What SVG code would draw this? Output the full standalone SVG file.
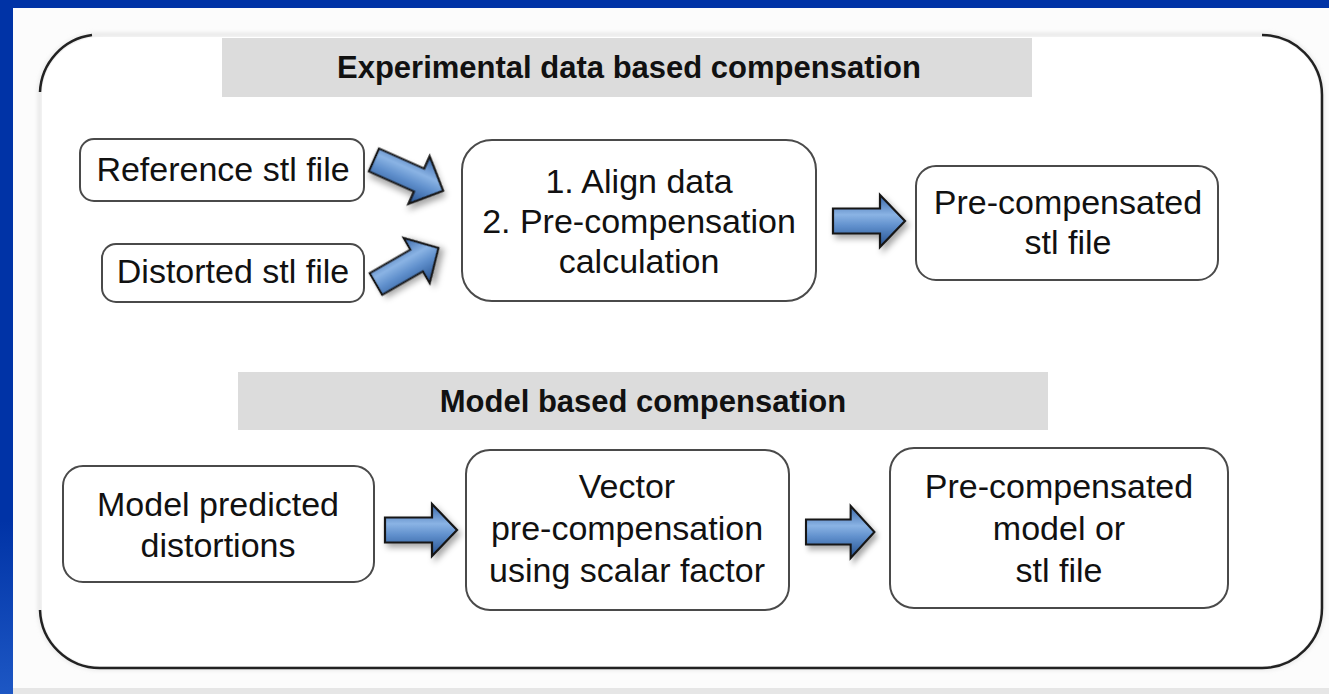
<svg xmlns="http://www.w3.org/2000/svg" xmlns:xlink="http://www.w3.org/1999/xlink" width="1329" height="694" viewBox="0 0 1329 694">
<defs>
<style>
.box{fill:#fff;stroke:#4a4a4a;stroke-width:2}
.hdr{fill:#dcdcdc}
.t{font-family:"Liberation Sans",Arial,sans-serif;font-size:34px;fill:#111;text-anchor:middle}
.h{font-family:"Liberation Sans",Arial,sans-serif;font-size:31px;font-weight:bold;fill:#111;text-anchor:middle}
.arr{fill:url(#ag);stroke:#151515;stroke-width:2.2;stroke-linejoin:miter;filter:url(#sh)}
</style>
<linearGradient id="ag" x1="0" y1="0" x2="0" y2="1">
<stop offset="0" stop-color="#3766a8"/>
<stop offset="0.38" stop-color="#8ab3e4"/>
<stop offset="0.6" stop-color="#5f8fcc"/>
<stop offset="1" stop-color="#25508e"/>
</linearGradient>
<linearGradient id="lb" x1="0" y1="0" x2="0" y2="1">
<stop offset="0" stop-color="#0033a6"/>
<stop offset="0.75" stop-color="#0033a6"/>
<stop offset="1" stop-color="#1d57c4"/>
</linearGradient>
<filter id="sh" x="-30%" y="-50%" width="160%" height="200%">
<feDropShadow dx="3" dy="4" stdDeviation="3" flood-color="#000" flood-opacity="0.35"/>
</filter>
<filter id="ps" x="-5%" y="-5%" width="110%" height="110%">
<feGaussianBlur stdDeviation="2"/>
</filter>
<path id="arrow" d="M0,-12.5 L47,-12.5 L47,-26 L72,0 L47,26 L47,12.5 L0,12.5 Z"/>
</defs>
<rect x="0" y="0" width="1329" height="694" fill="#fcfcfc"/>
<rect x="0" y="688" width="1329" height="6" fill="#e6e6e6"/>
<rect x="0" y="0" width="1329" height="8" fill="#0033a6"/>
<rect x="0" y="0" width="13" height="694" fill="url(#lb)"/>
<g id="panel">
<rect x="40" y="35" width="1282" height="633" rx="60" ry="60" fill="#fff" stroke="#e3e3e3" stroke-width="4" filter="url(#ps)"/>
<rect x="42" y="37" width="1278" height="629" rx="58" ry="58" fill="#fff"/>
<path d="M40,92 A60,60 0 0 1 92,35" fill="none" stroke="#222" stroke-width="2.5"/>
<path d="M1262,35 A60,60 0 0 1 1322,95 L1322,608 A60,60 0 0 1 1262,668 L100,668 A60,60 0 0 1 40,610" fill="none" stroke="#222" stroke-width="2.5"/>
</g>
<g id="header-experimental">
<rect class="hdr" x="222" y="38" width="810" height="59"/>
<text class="h" x="629" y="78">Experimental data based compensation</text>
</g>
<g id="header-model">
<rect class="hdr" x="238" y="372" width="810" height="58"/>
<text class="h" x="643" y="412">Model based compensation</text>
</g>
<g id="reference">
<rect class="box" x="80" y="139" width="284" height="62" rx="14"/>
<text class="t" x="223" y="181">Reference stl file</text>
</g>
<g id="distorted">
<rect class="box" x="102" y="244" width="262" height="58" rx="14"/>
<text class="t" x="233" y="283">Distorted stl file</text>
</g>
<g id="align">
<rect class="box" x="462" y="140" width="354" height="161" rx="30"/>
<text class="t" x="639" y="193">1. Align data</text>
<text class="t" x="639" y="233">2. Pre-compensation</text>
<text class="t" x="639" y="273">calculation</text>
</g>
<g id="precomp-stl">
<rect class="box" x="916" y="166" width="302" height="114" rx="20"/>
<text class="t" x="1068" y="214">Pre-compensated</text>
<text class="t" x="1068" y="254">stl file</text>
</g>
<g id="model-predicted">
<rect class="box" x="63" y="466" width="311" height="116" rx="20"/>
<text class="t" x="218" y="516">Model predicted</text>
<text class="t" x="218" y="557">distortions</text>
</g>
<g id="vector">
<rect class="box" x="466" y="450" width="323" height="160" rx="24"/>
<text class="t" x="627" y="498">Vector</text>
<text class="t" x="627" y="540">pre-compensation</text>
<text class="t" x="627" y="582">using scalar factor</text>
</g>
<g id="precomp-model">
<rect class="box" x="890" y="448" width="338" height="160" rx="24"/>
<text class="t" x="1059" y="498">Pre-compensated</text>
<text class="t" x="1059" y="540">model or</text>
<text class="t" x="1059" y="582">stl file</text>
</g>
<g id="connectors">
<use xlink:href="#arrow" class="arr" transform="translate(374,160) rotate(24) scale(1.05,1)"/>
<use xlink:href="#arrow" class="arr" transform="translate(376,284) rotate(-30)"/>
<use xlink:href="#arrow" class="arr" transform="translate(833,221)"/>
<use xlink:href="#arrow" class="arr" transform="translate(385,530)"/>
<use xlink:href="#arrow" class="arr" transform="translate(806,532) scale(0.95,1)"/>
</g>
</svg>
